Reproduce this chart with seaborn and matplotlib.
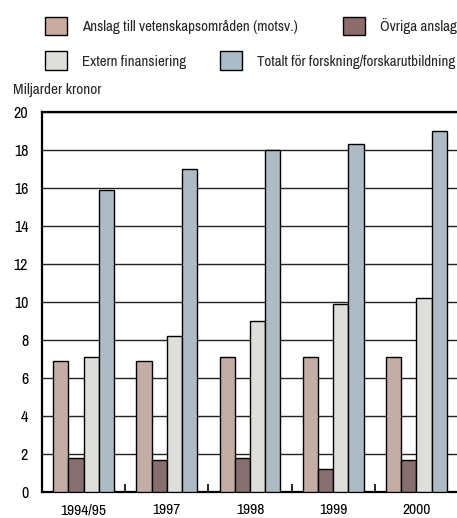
import matplotlib
matplotlib.use("Agg")
import matplotlib.pyplot as plt
from matplotlib.patches import Patch
from matplotlib import font_manager
import pandas as pd
import seaborn as sns

years = ["1994/95", "1997", "1998", "1999", "2000"]
series = [
    "Anslag till vetenskapsområden (motsv.)",
    "Övriga anslag",
    "Extern finansiering",
    "Totalt för forskning/forskarutbildning",
]
anslag_vet = [6.9, 6.9, 7.1, 7.1, 7.1]
ovriga = [1.8, 1.7, 1.8, 1.2, 1.7]
extern = [7.1, 8.2, 9.0, 9.9, 10.2]
totalt = [15.9, 17.0, 18.0, 18.3, 19.0]
colors = ["#c9aba0", "#8c6b6b", "#dededa", "#a9bcc8"]

rows = []
for name, vals in zip(series, [anslag_vet, ovriga, extern, totalt]):
    for y, v in zip(years, vals):
        rows.append({"year": y, "serie": name, "value": v})
df = pd.DataFrame(rows)

sns.set_style("white")
names = sorted({f.name for f in font_manager.fontManager.ttflist})
cond = [n for n in names if "Condensed" in n or "Narrow" in n]
plt.rcParams["font.family"] = cond[:1] + ["DejaVu Sans"]
plt.rcParams["font.stretch"] = "condensed"

fig = plt.figure(figsize=(4.57, 5.18), dpi=100)
ax = fig.add_axes([0.092, 0.050, 0.91, 0.734])

sns.barplot(data=df, x="year", y="value", hue="serie", hue_order=series,
            palette=colors, width=0.73, edgecolor="black", linewidth=1.0,
            legend=False, ax=ax, zorder=3)

ax.set_ylim(0, 20)
ax.set_xlim(-0.5, 4.5)
ax.set_yticks(range(0, 21, 2))
ax.yaxis.grid(True, color="#222222", linewidth=1.0, zorder=0)
ax.set_axisbelow(True)
ax.set_xlabel("")
ax.set_ylabel("")
for s in ["left", "top", "bottom"]:
    ax.spines[s].set_visible(True)
    ax.spines[s].set_color("black")
    ax.spines[s].set_linewidth(1.6)
ax.spines["right"].set_visible(False)

# small tick marks between the year groups
ax.set_xticks([0.5, 1.5, 2.5, 3.5], minor=True)
ax.tick_params(axis="x", which="minor", bottom=True, direction="in",
               length=6, width=1.2, color="black")
ax.tick_params(axis="y", length=0, labelsize=11.5, pad=10, labelcolor="black")
ax.tick_params(axis="x", which="major", length=0, labelsize=11.2, pad=8,
               labelcolor="black")

fig.text(0.028, 0.826, "Miljarder kronor", fontsize=11, ha="left", va="center")

# legend boxes placed one by one, like the reference
legend_pos = [(0.098, 0.950), (0.750, 0.950), (0.098, 0.883), (0.481, 0.883)]
for c, name, (lx, ly) in zip(colors, series, legend_pos):
    fig.legend([Patch(facecolor=c, edgecolor="black", linewidth=1.0)], [name],
               frameon=False, loc="center left", bbox_to_anchor=(lx, ly),
               fontsize=10.8, handlelength=1.5, handleheight=1.5,
               handletextpad=1.0, borderaxespad=0, borderpad=0)

fig.savefig("out.png", dpi=100)
